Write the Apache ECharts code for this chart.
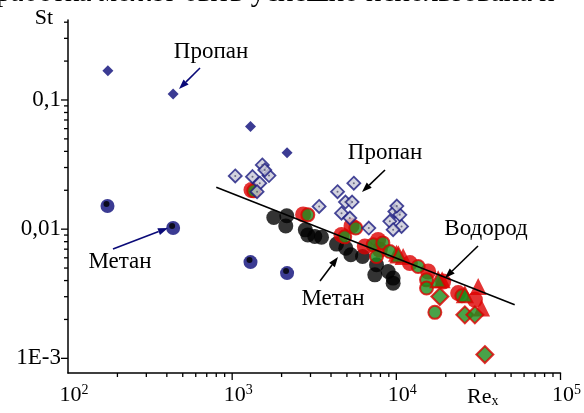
<!DOCTYPE html>
<html>
<head>
<meta charset="utf-8">
<script src="https://cdn.jsdelivr.net/npm/echarts@6/dist/echarts.min.js"></script>
<style>
  html, body { margin: 0; padding: 0; background: #fff; }
  #chart { width: 584px; height: 413px; }
</style>
</head>
<body>
<div id="chart"></div>
<script>
// Axis ranges (Re_x horizontally, St vertically, both logarithmic)
const X_MIN = 100, X_MAX = 100000;
const Y_MIN = 0.00077, Y_MAX = 0.416;

// Tick values
const xMajorTicks = [1000, 10000, 100000];
const xMinorTicks = [200, 300, 400, 500, 600, 700, 800, 900,
  2000, 3000, 4000, 5000, 6000, 7000, 8000, 9000,
  20000, 30000, 40000, 50000, 60000, 70000, 80000, 90000];
const yMajorTicks = [0.001, 0.01, 0.1];
const yMinorTicks = [0.002, 0.003, 0.004, 0.005, 0.006, 0.007, 0.008, 0.009,
  0.02, 0.03, 0.04, 0.05, 0.06, 0.07, 0.08, 0.09, 0.2, 0.3, 0.4];
const yTickLabels = { '-3': '1E-3', '-2': '0,01', '-1': '0,1' };

// Propane, small solid markers [Re_x, St]
const propaneSolid = [[175, 0.168], [437, 0.111], [1293, 0.0622], [2160, 0.0391]];
// Methane, navy circles
const methaneNavy = [[174, 0.0151], [437, 0.0102], [1293, 0.00556], [2160, 0.00457]];
// Propane, open grey diamonds
const propaneOpen = [
  [1044, 0.0258], [1330, 0.0255], [1526, 0.0314], [1676, 0.0260], [1473, 0.0227],
  [1418, 0.0195], [1580, 0.0287],
  [3386, 0.0150], [4383, 0.0195], [5508, 0.0227], [4901, 0.0162], [5379, 0.0162],
  [4636, 0.0133], [5207, 0.0122], [6799, 0.0102],
  [9792, 0.0137], [10503, 0.0129], [9129, 0.0115], [10757, 0.0105], [9561, 0.0099], [10070, 0.0151]
];
// Methane, black circles
const methaneBlack = [
  [1793, 0.0123], [2151, 0.0127], [2121, 0.0106], [2790, 0.00988], [2889, 0.00903],
  [3187, 0.00877], [3501, 0.00867], [4322, 0.00766], [4922, 0.00713], [5281, 0.00633],
  [6223, 0.00614], [7575, 0.0053], [7396, 0.00443], [8913, 0.0047], [9561, 0.00418], [9561, 0.00382]
];
// Hydrogen, red circles
const hydrogenRed = [
  [1311, 0.0201], [2705, 0.0130], [5333, 0.0106], [4636, 0.00903], [6427, 0.00733],
  [7747, 0.00826], [7934, 0.00692], [12089, 0.00546], [15624, 0.0047], [19290, 0.00393],
  [23810, 0.0032], [30090, 0.00284]
];
// Hydrogen, green circles
const hydrogenGreen = [
  [1354, 0.0198], [2890, 0.0129], [5660, 0.0102], [4850, 0.00872], [7222, 0.00756],
  [8280, 0.00783], [7575, 0.00614], [9129, 0.00671], [13582, 0.00514], [15276, 0.00405],
  [15276, 0.0035], [17165, 0.00227], [25070, 0.00305]
];
// Hydrogen, triangles and diamonds
const hydrogenTriRed = [[10028, 0.00652], [11000, 0.00614], [31510, 0.0036], [33050, 0.00245], [19000, 0.00405]];
const hydrogenTriGreen = [[17980, 0.00405], [26150, 0.0031], [10300, 0.0063]];
const hydrogenDiamond = [[18418, 0.00301], [26150, 0.00217], [30090, 0.00217], [34620, 0.00107]];
// Correlation line St ~ Re_x^-0.5
const fitLine = [[800, 0.0211], [52600, 0.0026]];

const SERIF = '"Liberation Serif", "Times New Roman", serif';
const NAVY = '#0a0a78';
const RED = '#dc0000';
const GREEN = '#1c8c1c';

function tickSeries(values, axis, len) {
  const data = values.map(v => axis === 'x' ? [v, Y_MIN] : [X_MIN, v]);
  return {
    type: 'custom', silent: true, clip: false, z: 5,
    data: data,
    encode: { x: 0, y: 1 },
    renderItem: function (params, api) {
      const p = api.coord([api.value(0), api.value(1)]);
      const shape = axis === 'x'
        ? { x1: p[0], y1: p[1], x2: p[0], y2: p[1] + len }
        : { x1: p[0], y1: p[1], x2: p[0] - len, y2: p[1] };
      return { type: 'line', shape: shape, style: { stroke: '#000', lineWidth: 1.3 } };
    }
  };
}

function arrow(x1, y1, x2, y2, color) {
  const a = Math.atan2(y2 - y1, x2 - x1);
  const hl = 10, hw = 3.6;
  const bx = x2 - hl * Math.cos(a), by = y2 - hl * Math.sin(a);
  const nx = -Math.sin(a) * hw, ny = Math.cos(a) * hw;
  return [
    { type: 'line', shape: { x1: x1, y1: y1, x2: bx, y2: by }, style: { stroke: color, lineWidth: 1.6 }, z: 100 },
    { type: 'polygon', shape: { points: [[x2, y2], [bx + nx, by + ny], [bx - nx, by - ny]] }, style: { fill: color }, z: 100 }
  ];
}

function label(text, x, y, size) {
  return { type: 'text', x: x, y: y, z: 100,
    style: { text: text, font: size + 'px ' + SERIF, fill: '#000', align: 'center', verticalAlign: 'middle' } };
}

const chart = echarts.init(document.getElementById('chart'), null, { renderer: 'canvas' });

chart.setOption({
  backgroundColor: '#fff',
  animation: false,
  grid: { left: 68, right: 23, top: 20, bottom: 40, containLabel: false },
  xAxis: {
    type: 'log', logBase: 10, min: X_MIN, max: X_MAX,
    axisLine: { show: true, lineStyle: { color: '#000', width: 1.5 } },
    axisTick: { show: false },
    splitLine: { show: false },
    axisLabel: {
      margin: 10, color: '#000', padding: [0, 0, 0, 12],
      formatter: function (v) {
        const e = Math.log10(v);
        if (Math.abs(e - Math.round(e)) > 1e-6) return '';
        return '{b|10}{s|' + Math.round(e) + '}';
      },
      rich: {
        b: { fontFamily: SERIF, fontSize: 22, lineHeight: 24, color: '#000' },
        s: { fontFamily: SERIF, fontSize: 14, lineHeight: 14, verticalAlign: 'top', color: '#000' }
      }
    }
  },
  yAxis: {
    type: 'log', logBase: 10, min: Y_MIN, max: Y_MAX,
    axisLine: { show: true, lineStyle: { color: '#000', width: 1.5 } },
    axisTick: { show: false },
    splitLine: { show: false },
    axisLabel: {
      margin: 7, color: '#000', fontFamily: SERIF, fontSize: 23,
      formatter: function (v) {
        const e = Math.log10(v);
        if (Math.abs(e - Math.round(e)) > 1e-6) return '';
        return yTickLabels[String(Math.round(e))] || '';
      }
    }
  },
  graphic: [].concat(
    [{ type: 'text', x: -4, y: -21, z: 100,
       style: { text: 'работка может быть успешно использована н', font: '29px ' + SERIF, fill: '#000', align: 'left', verticalAlign: 'top' } }],
    [label('St', 44, 18, 22)],
    [{ type: 'text', x: 467, y: 397, z: 100,
       style: { text: '{a|Re}{b|x}', align: 'left', verticalAlign: 'middle',
         rich: { a: { font: '22px ' + SERIF, fill: '#000' },
                 b: { font: '14px ' + SERIF, fill: '#000', verticalAlign: 'bottom', padding: [8, 0, 0, 0] } } } }],
    [label('Пропан', 211, 52, 23)],
    arrow(200, 68, 179, 89, NAVY),
    [label('Метан', 120, 262, 23)],
    arrow(113, 249, 168, 228, NAVY),
    [label('Пропан', 385, 153, 23)],
    arrow(385, 170, 362, 192, '#000'),
    [label('Метан', 333, 299, 23)],
    arrow(320, 281, 338, 257, '#000'),
    [label('Водород', 486, 229, 23)],
    arrow(478, 246, 445, 278, '#000')
  ),
  series: [
    tickSeries(xMajorTicks, 'x', 7),
    tickSeries(xMinorTicks, 'x', 4),
    tickSeries(yMajorTicks, 'y', 7),
    tickSeries(yMinorTicks, 'y', 4),
    { type: 'scatter', data: propaneSolid, symbol: 'diamond', symbolSize: 11,
      itemStyle: { color: NAVY }, z: 10 },
    { type: 'scatter', data: methaneNavy, symbol: 'circle', symbolSize: 14,
      itemStyle: { color: NAVY }, z: 10 },
    { type: 'scatter', data: methaneNavy, symbol: 'circle', symbolSize: 6, symbolOffset: [-1, -2],
      itemStyle: { color: '#000' }, z: 11 },
    { type: 'scatter', data: methaneBlack, symbol: 'circle', symbolSize: 15,
      itemStyle: { color: '#000' }, z: 12 },
    { type: 'scatter', data: hydrogenRed, symbol: 'circle', symbolSize: 16,
      itemStyle: { color: RED }, z: 13 },
    { type: 'scatter', data: hydrogenTriRed, symbol: 'triangle', symbolSize: 17,
      itemStyle: { color: RED }, z: 13 },
    { type: 'scatter', data: hydrogenGreen, symbol: 'circle', symbolSize: 13,
      itemStyle: { color: GREEN, borderColor: RED, borderWidth: 2 }, z: 14 },
    { type: 'scatter', data: hydrogenTriGreen, symbol: 'triangle', symbolSize: 15,
      itemStyle: { color: GREEN, borderColor: RED, borderWidth: 2 }, z: 14 },
    { type: 'scatter', data: hydrogenDiamond, symbol: 'diamond', symbolSize: 17,
      itemStyle: { color: GREEN, borderColor: RED, borderWidth: 2 }, z: 14 },
    { type: 'scatter', data: propaneOpen, symbol: 'diamond', symbolSize: 13,
      itemStyle: { color: '#c8c8d6', borderColor: '#1a1a80', borderWidth: 1.8 }, z: 15 },
    { type: 'scatter', data: propaneOpen, symbol: 'circle', symbolSize: 2,
      itemStyle: { color: '#505070' }, z: 16 },
    { type: 'line', data: fitLine, showSymbol: false, symbol: 'none',
      lineStyle: { color: '#000', width: 1.6 }, z: 20, silent: true }
  ]
});
</script>
</body>
</html>
